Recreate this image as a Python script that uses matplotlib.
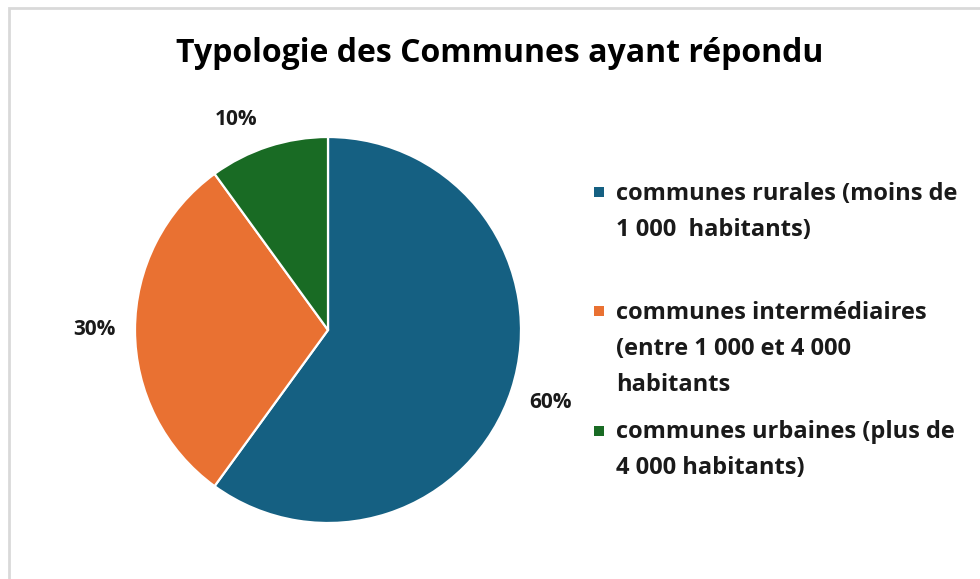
import matplotlib
matplotlib.use("Agg")
import matplotlib.pyplot as plt
from matplotlib.patches import Rectangle
import numpy as np

title = "Typologie des Communes ayant répondu"
categories = [
    "communes rurales (moins de\n1 000  habitants)",
    "communes intermédiaires\n(entre 1 000 et 4 000\nhabitants",
    "communes urbaines (plus de\n4 000 habitants)",
]
values = [60, 30, 10]
colors = ["#156082", "#E97132", "#196B24"]

W, H = 980, 579
fig = plt.figure(figsize=(W / 100, H / 100), dpi=100)
plt.rcParams['font.family'] = ['Open Sans', 'DejaVu Sans']

def fx(px):
    return px / W

def fy(py):
    return 1 - py / H

# border
fig.patches.append(Rectangle((fx(9), fy(H + 20)), 1.2, (H + 20 - 8) / H,
                             transform=fig.transFigure, fill=False,
                             edgecolor="#d9d9d9", linewidth=2))

# pie axes: center (328,330), radius 193
cx, cy, r = 328, 330, 193
ax = fig.add_axes([fx(cx - r), fy(cy + r), 2 * r / W, 2 * r / H])
wedges, texts, autotexts = ax.pie(
    values, colors=colors, startangle=90, counterclock=False,
    autopct=lambda p: f"{p:.0f}%", pctdistance=1.21,
    wedgeprops=dict(edgecolor="white", linewidth=1.6),
    textprops=dict(fontsize=15, fontweight="bold", color="#1a1a1a"))
ax.set_xlim(-1, 1)
ax.set_ylim(-1, 1)
ax.axis("off")
# Excel best-fit places the small slice label a bit further left
a = np.deg2rad(113.5)
autotexts[2].set_position((1.19 * np.cos(a), 1.19 * np.sin(a)))

fig.text(fx(500), fy(62), title, ha="center", va="baseline",
         fontsize=23, fontweight="bold", color="#000000")

# legend
baselines = [200, 319, 438]
sq_centers = [192, 311, 431]
for lab, col, b, sc in zip(categories, colors, baselines, sq_centers):
    fig.patches.append(Rectangle((fx(594), fy(sc + 5)), 10 / W, 10 / H,
                                 transform=fig.transFigure, facecolor=col,
                                 edgecolor="none"))
    for i, line in enumerate(lab.split("\n")):
        fig.text(fx(616), fy(b + i * 36), line, ha="left", va="baseline",
                 fontsize=17, fontweight="bold", color="#1a1a1a")

fig.savefig("out.png", dpi=100)
